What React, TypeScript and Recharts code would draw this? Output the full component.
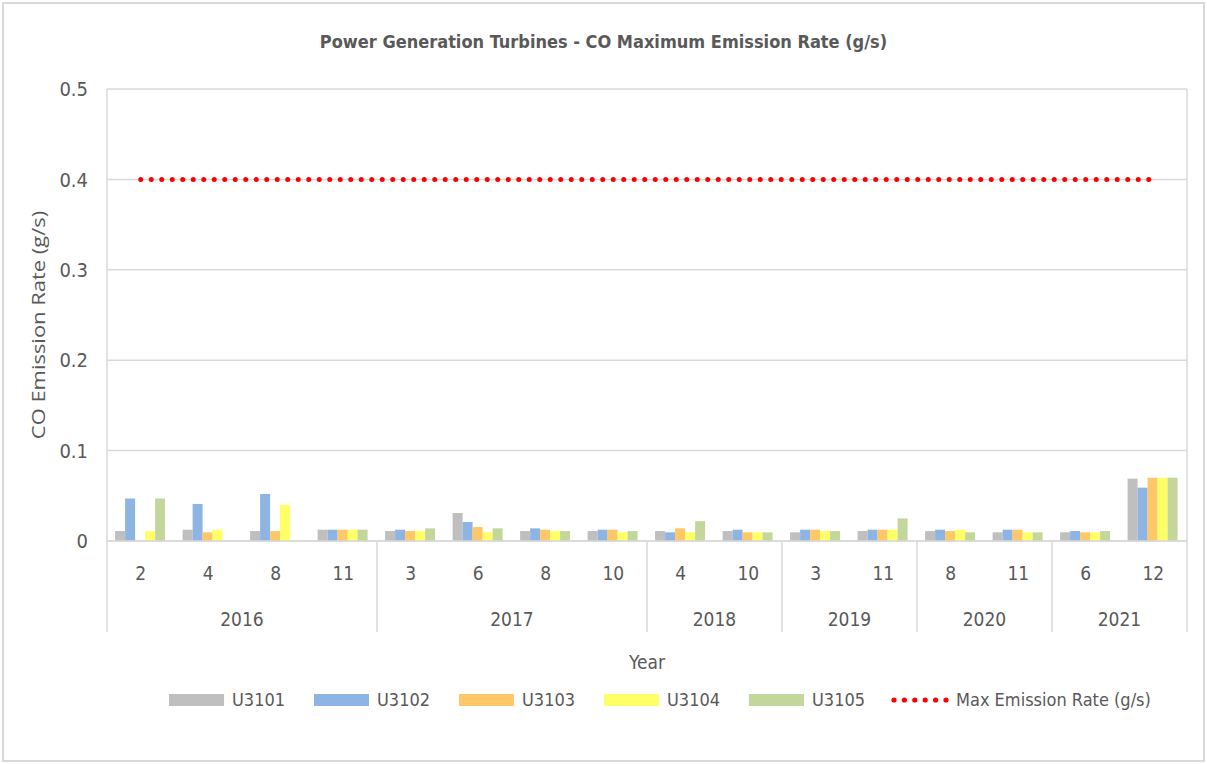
import React from 'react';
import { ComposedChart, Bar, Line, XAxis, YAxis, CartesianGrid, Legend } from 'recharts';

const months = [2, 4, 8, 11, 3, 6, 8, 10, 4, 10, 3, 11, 8, 11, 6, 12];
const years = [2016, 2016, 2016, 2016, 2017, 2017, 2017, 2017, 2018, 2018, 2019, 2019, 2020, 2020, 2021, 2021];
const u3101 = [0.011, 0.0125, 0.011, 0.0125, 0.011, 0.031, 0.011, 0.011, 0.011, 0.011, 0.0096, 0.011, 0.011, 0.0096, 0.0096, 0.069];
const u3102 = [0.047, 0.041, 0.052, 0.0125, 0.0125, 0.021, 0.014, 0.0125, 0.0096, 0.0125, 0.0125, 0.0125, 0.0125, 0.0125, 0.011, 0.059];
const u3103 = [null, 0.0096, 0.011, 0.0125, 0.011, 0.0155, 0.0125, 0.0125, 0.014, 0.0096, 0.0125, 0.0125, 0.011, 0.0125, 0.0096, 0.07];
const u3104 = [0.011, 0.0125, 0.04, 0.0125, 0.011, 0.0096, 0.011, 0.0096, 0.0096, 0.0096, 0.011, 0.0125, 0.0125, 0.0096, 0.0096, 0.07];
const u3105 = [0.047, null, null, 0.0125, 0.014, 0.014, 0.011, 0.011, 0.022, 0.0096, 0.011, 0.025, 0.0096, 0.0096, 0.011, 0.07];
const maxRate = [0.4, 0.4, 0.4, 0.4, 0.4, 0.4, 0.4, 0.4, 0.4, 0.4, 0.4, 0.4, 0.4, 0.4, 0.4, 0.4];
const yTicks = [0, 0.1, 0.2, 0.3, 0.4, 0.5];

const seriesNames = ['U3101', 'U3102', 'U3103', 'U3104', 'U3105'];
const seriesColors = ['#bfbfbf', '#8eb4e3', '#ffc766', '#ffff66', '#c3d69b'];
const lineName = 'Max Emission Rate (g/s)';

const data = months.map((m, i) => ({
  key: `${years[i]}-${m}`,
  month: m,
  year: years[i],
  U3101: u3101[i],
  U3102: u3102[i],
  U3103: u3103[i],
  U3104: u3104[i],
  U3105: u3105[i],
  maxRate: maxRate[i],
}));

const W = 1207;
const H = 764;
const M = { top: 89, right: 20, left: 0, bottom: 132 };
const Y_W = 107;
const X_H = 91;
const FONT = "'Liberation Sans Narrow', 'DejaVu Sans Condensed', 'Arial Narrow', sans-serif";
const TXT = '#595959';
const GRID = '#d9d9d9';

const XTick = (props: any) => {
  const { x, y, payload } = props;
  const i = payload?.index ?? props.index;
  const fallbackHalf = (W - M.left - M.right - Y_W) / months.length / 2;
  const half = payload?.offset && payload.offset > 0 ? payload.offset : fallbackHalf;
  const els: any[] = [];
  els.push(
    <text key="m" x={x} y={y + 32} textAnchor="middle" dominantBaseline="central" fill={TXT} fontSize={19} fontFamily={FONT}>
      {months[i]}
    </text>
  );
  if (i === 0) {
    els.push(<line key="l0" x1={x - half} x2={x - half} y1={y} y2={y + X_H} stroke={GRID} strokeWidth={1.5} />);
  }
  if (i === months.length - 1 || years[i + 1] !== years[i]) {
    els.push(<line key="l1" x1={x + half} x2={x + half} y1={y} y2={y + X_H} stroke={GRID} strokeWidth={1.5} />);
  }
  if (i === 0 || years[i - 1] !== years[i]) {
    let n = 0;
    while (i + n < years.length && years[i + n] === years[i]) n++;
    els.push(
      <text key="y" x={x - half + n * half} y={y + 78} textAnchor="middle" dominantBaseline="central" fill={TXT} fontSize={19} fontFamily={FONT}>
        {years[i]}
      </text>
    );
  }
  return <g>{els}</g>;
};

const LegendContent = () => (
  <div style={{ display: 'flex', alignItems: 'center', fontFamily: FONT, fontSize: 18, color: TXT, lineHeight: '24px', whiteSpace: 'nowrap' }}>
    {seriesNames.map((n, k) => (
      <div key={n} style={{ width: 145, flex: 'none', display: 'flex', alignItems: 'center' }}>
        <span style={{ display: 'inline-block', width: 55, height: 12, background: seriesColors[k], marginRight: 8 }} />
        <span>{n}</span>
      </div>
    ))}
    <div style={{ display: 'flex', flex: 'none', alignItems: 'center', marginLeft: -3 }}>
      <svg width={60} height={12} style={{ marginRight: 5 }}>
        {[0, 1, 2, 3, 4, 5].map((d) => (
          <circle key={d} cx={3 + d * 10.4} cy={6} r={2.6} fill="#ff0000" />
        ))}
      </svg>
      <span>{lineName}</span>
    </div>
  </div>
);

const YLabel = ({ viewBox }: any) => {
  const cy = viewBox.y + viewBox.height / 2 + 10;
  return (
    <text
      x={0}
      y={0}
      transform={`translate(38, ${cy}) rotate(-90) scale(1.22, 1)`}
      textAnchor="middle"
      dominantBaseline="central"
      fill={TXT}
      fontSize={18}
      fontFamily="'Open Sans', sans-serif"
    >
      CO Emission Rate (g/s)
    </text>
  );
};

export default function App() {
  return (
    <div style={{ position: 'absolute', left: 0, top: 0, width: W, height: H, background: '#fff', overflow: 'hidden' }}>
      <div style={{ position: 'absolute', left: 2, top: 2, width: W - 4, height: H - 4, border: `2px solid ${GRID}`, boxSizing: 'border-box' }} />
      <div style={{ position: 'absolute', left: 0, top: 28, width: W, textAlign: 'center', fontFamily: FONT, fontWeight: 'bold', fontSize: 18, color: TXT, lineHeight: '28px' }}>
        Power Generation Turbines - CO Maximum Emission Rate (g/s)
      </div>
      <div style={{ position: 'absolute', left: 0, top: 0 }}>
        <ComposedChart width={W} height={H} data={data} margin={M} barCategoryGap="12%" barGap={0}>
          <CartesianGrid
            stroke={GRID}
            strokeWidth={1.5}
            vertical={true}
            verticalCoordinatesGenerator={({ offset }: any) => [offset.left, offset.left + offset.width]}
          />
          <XAxis
            dataKey="key"
            height={X_H}
            axisLine={{ stroke: GRID, strokeWidth: 1.5 }}
            tickLine={false}
            tickSize={0}
            tickMargin={0}
            interval={0}
            tick={<XTick />}
            label={{ value: 'Year', position: 'bottom', offset: 24, fill: TXT, fontSize: 19, fontFamily: FONT }}
          />
          <YAxis
            width={Y_W}
            domain={[0, 0.5]}
            ticks={yTicks}
            axisLine={false}
            tickLine={false}
            tickSize={0}
            tickMargin={19}
            tickFormatter={(v: number) => (v === 0 ? '0' : v.toFixed(1))}
            tick={{ fill: TXT, fontSize: 20, fontFamily: FONT }}
            label={<YLabel />}
          />
          {seriesNames.map((n, k) => (
            <Bar key={n} dataKey={n} name={n} fill={seriesColors[k]} isAnimationActive={false} />
          ))}
          <Line
            dataKey="maxRate"
            name={lineName}
            stroke="#ff0000"
            strokeWidth={5}
            strokeDasharray="0 10.5"
            strokeLinecap="round"
            dot={false}
            activeDot={false}
            isAnimationActive={false}
          />
          <Legend
            layout="horizontal"
            verticalAlign="middle"
            align="center"
            content={<LegendContent />}
            wrapperStyle={{ position: 'absolute', top: 688, left: 169, width: 1030 }}
          />
        </ComposedChart>
      </div>
    </div>
  );
}
